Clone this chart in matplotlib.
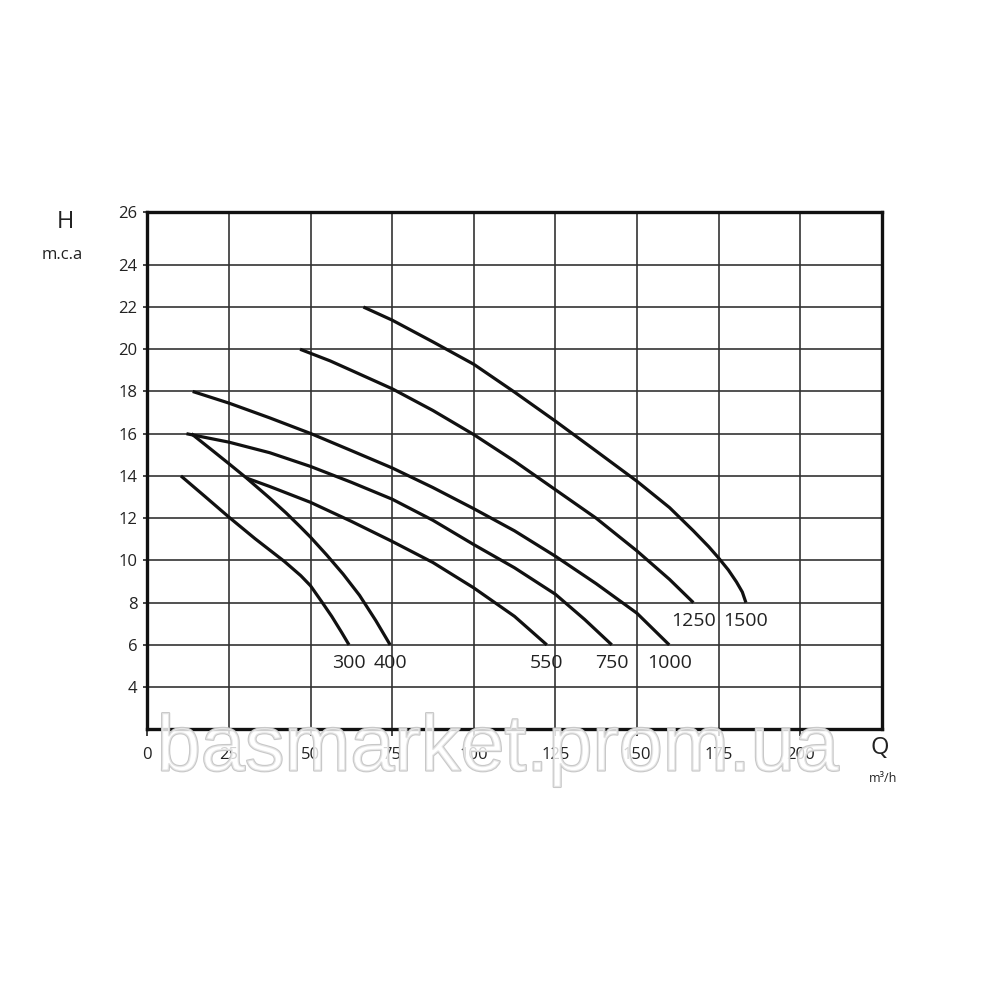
import matplotlib
matplotlib.use("Agg")
import matplotlib.pyplot as plt
import matplotlib.patheffects as pe

plt.rcParams['font.family'] = ['Open Sans', 'DejaVu Sans']

# pump curves: Q (m3/h) vs H (m.c.a), one per model
names = ["300", "400", "550", "750", "1000", "1250", "1500"]

q300 = [10.3, 17.5, 25, 33, 42, 47, 50, 53.4, 56.5, 59.5, 61.8]
h300 = [14.0, 13.05, 12.05, 11.03, 9.95, 9.28, 8.8, 8.05, 7.35, 6.6, 6.0]

q400 = [13.5, 20, 25, 30.4, 37.5, 42.5, 46.8, 50, 55, 60, 65, 70, 74.4]
h400 = [16.0, 15.2, 14.58, 13.9, 12.95, 12.25, 11.6, 11.1, 10.25, 9.35, 8.35, 7.15, 6.0]

q550 = [30.4, 37.5, 50, 62.5, 75, 87.5, 100, 112.5, 122.4]
h550 = [13.9, 13.5, 12.75, 11.85, 10.9, 9.9, 8.7, 7.35, 6.0]

q750 = [12, 25, 37.5, 50, 62.5, 75, 87.5, 100, 112.5, 125, 134, 142.3]
h750 = [16.0, 15.6, 15.1, 14.45, 13.7, 12.9, 11.9, 10.75, 9.65, 8.4, 7.2, 6.0]

q1000 = [13.9, 25, 37.5, 50.2, 62.5, 75, 87.5, 100, 112.5, 125, 137.5, 150, 159.9]
h1000 = [18.0, 17.45, 16.75, 16.0, 15.2, 14.38, 13.45, 12.45, 11.4, 10.2, 8.9, 7.5, 6.0]

q1250 = [46.8, 56, 62.5, 75, 87.5, 100, 112.5, 125, 137.5, 150, 160, 167.3]
h1250 = [20.0, 19.45, 19.0, 18.13, 17.1, 15.96, 14.7, 13.35, 12.0, 10.45, 9.1, 8.0]

q1500 = [66.2, 75, 87.5, 100, 112.5, 125, 137.5, 150, 160, 167.3, 172, 175, 178, 180.5, 182.3, 183.4]
h1500 = [22.0, 21.38, 20.35, 19.29, 17.97, 16.6, 15.18, 13.75, 12.5, 11.4, 10.65, 10.12, 9.55, 8.98, 8.5, 8.0]

curves = [(q300, h300), (q400, h400), (q550, h550), (q750, h750),
          (q1000, h1000), (q1250, h1250), (q1500, h1500)]

x_ticks = [0, 25, 50, 75, 100, 125, 150, 175, 200]
y_ticks = [4, 6, 8, 10, 12, 14, 16, 18, 20, 22, 24]
y_top_label = "26"

fig = plt.figure(figsize=(10, 10), dpi=100)
ax = fig.add_axes([0.1473, 0.2707, 0.7344, 0.5173])

ax.set_xlim(0, 225)
ax.set_ylim(2, 26.5)

grid_c = "#333333"
for x in x_ticks[1:]:
    ax.axvline(x, color=grid_c, lw=1.2, zorder=1)
for y in y_ticks:
    ax.axhline(y, color=grid_c, lw=1.2, zorder=1)

for (q, h), name in zip(curves, names):
    ax.plot(q, h, color="#111111", lw=2.3, solid_joinstyle="round",
            solid_capstyle="butt", zorder=3)
    ax.text(q[-1], h[-1] - 0.85, name, ha="center", va="center",
            fontsize=14, color="#222222", zorder=4)

ax.set_xticks(x_ticks)
ax.set_xticklabels([str(v) for v in x_ticks])
ax.set_yticks(y_ticks + [26.5])
ax.set_yticklabels([str(v) for v in y_ticks] + [y_top_label])
ax.tick_params(axis="both", direction="out", width=1.2,
               color="#222222", labelsize=12, labelcolor="#222222")
ax.tick_params(axis="x", length=5, pad=8)
ax.tick_params(axis="y", length=3, pad=4)

for s in ax.spines.values():
    s.set_linewidth(2.4)
    s.set_color("#111111")
    s.set_zorder(5)

fig.text(0.065, 0.778, "H", fontsize=17, ha="center", va="center", color="#222222")
fig.text(0.062, 0.745, "m.c.a", fontsize=12, ha="center", va="center", color="#222222")
fig.text(0.880, 0.252, "Q", fontsize=17, ha="center", va="center", color="#222222")
fig.text(0.883, 0.222, "m³/h", fontsize=9, ha="center", va="center", color="#222222")

fig.text(0.498, 0.250, "basmarket.prom.ua", fontsize=57, ha="center", va="center",
         family="Liberation Sans", color=(1, 1, 1, 0.55), zorder=10,
         path_effects=[pe.withStroke(linewidth=1.6, foreground="#c8c8c8")])

fig.savefig("out.png", dpi=100, facecolor="white")
